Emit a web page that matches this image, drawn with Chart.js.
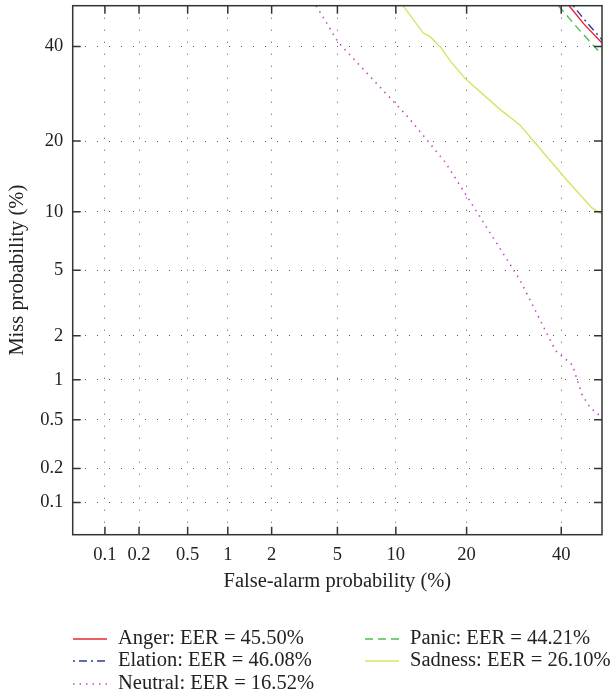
<!DOCTYPE html>
<html>
<head>
<meta charset="utf-8">
<script src="https://cdn.jsdelivr.net/npm/chart.js@4.4.1/dist/chart.umd.min.js"></script>
<style>
  body { margin: 0; background: #fff; }
  canvas { display: block; }
</style>
</head>
<body>
<canvas id="detChart" width="612" height="698"></canvas>
<script>
// DET plot, all values in percent
const tickValues = [0.1, 0.2, 0.5, 1, 2, 5, 10, 20, 40];
const tickLabels = ['0.1', '0.2', '0.5', '1', '2', '5', '10', '20', '40'];
const axisMin = 0.05;
const axisMax = 50;

const seriesNames = ['Anger: EER = 45.50%', 'Elation: EER = 46.08%', 'Neutral: EER = 16.52%',
  'Panic: EER = 44.21%', 'Sadness: EER = 26.10%'];

const angerFA = [41.9, 45.5, 50];
const angerMiss = [50, 45.5, 40.8];
const elationFA = [42.9, 46.1, 50];
const elationMiss = [50, 46.0, 41.6];
const neutralFA = [3.78, 5.05, 11.4, 16.5, 30.5, 38.6, 42.7, 45.1, 47.1, 50];
const neutralMiss = [50, 41, 24.4, 16.5, 4.4, 1.6, 1.27, 0.77, 0.62, 0.52];
const panicFA = [39.3, 44.2, 50];
const panicMiss = [50, 44.2, 38.0];
const sadnessFA = [10.8, 13.3, 14.3, 15.9, 17.3, 19.7, 26.1, 30.5, 36.2, 40.9, 44.6, 47.6, 50];
const sadnessMiss = [50, 43.3, 42.3, 39.6, 36.5, 32.6, 26.1, 22.9, 17.7, 14.2, 11.95, 10.4, 9.75];

// inverse normal cdf (Acklam), used for the normal-deviate axes
function probit(p) {
  const a = [-3.969683028665376e+01, 2.209460984245205e+02, -2.759285104469687e+02, 1.383577518672690e+02, -3.066479806614716e+01, 2.506628277459239e+00];
  const b = [-5.447609879822406e+01, 1.615858368580409e+02, -1.556989798598866e+02, 6.680131188771972e+01, -1.328068155288572e+01];
  const c = [-7.784894002430293e-03, -3.223964580411365e-01, -2.400758277161838e+00, -2.549732539343734e+00, 4.374664141464968e+00, 2.938163982698783e+00];
  const d = [7.784695709041462e-03, 3.224671290700398e-01, 2.445134137142996e+00, 3.754408661907416e+00];
  const pl = 0.02425;
  if (p < pl) {
    const q = Math.sqrt(-2 * Math.log(p));
    return (((((c[0]*q+c[1])*q+c[2])*q+c[3])*q+c[4])*q+c[5]) / ((((d[0]*q+d[1])*q+d[2])*q+d[3])*q+1);
  }
  if (p > 1 - pl) {
    const q = Math.sqrt(-2 * Math.log(1 - p));
    return -(((((c[0]*q+c[1])*q+c[2])*q+c[3])*q+c[4])*q+c[5]) / ((((d[0]*q+d[1])*q+d[2])*q+d[3])*q+1);
  }
  const q = p - 0.5, r = q * q;
  return (((((a[0]*r+a[1])*r+a[2])*r+a[3])*r+a[4])*r+a[5])*q / (((((b[0]*r+b[1])*r+b[2])*r+b[3])*r+b[4])*r+1);
}
const dev = v => v >= 50 ? 0 : probit(v / 100);

function points(fa, miss) {
  return fa.map((f, i) => ({ x: dev(f), y: dev(miss[i]) }));
}

const serif = '"Liberation Serif", "DejaVu Serif", serif';

const frame = {
  id: 'frame',
  afterDatasetsDraw(chart) {
    const { ctx, chartArea: a, scales: { x, y } } = chart;
    ctx.save();
    ctx.strokeStyle = '#333';
    ctx.lineWidth = 1.5;
    ctx.strokeRect(a.left, a.top, a.width, a.height);
    ctx.beginPath();
    tickValues.forEach(v => {
      const px = x.getPixelForValue(dev(v));
      ctx.moveTo(px, a.bottom); ctx.lineTo(px, a.bottom - 8);
      ctx.moveTo(px, a.top); ctx.lineTo(px, a.top + 8);
      const py = y.getPixelForValue(dev(v));
      ctx.moveTo(a.left, py); ctx.lineTo(a.left + 8, py);
      ctx.moveTo(a.right, py); ctx.lineTo(a.right - 8, py);
    });
    ctx.stroke();
    ctx.restore();
  }
};

// two-column legend under the plot
const legendBox = {
  id: 'legendBox',
  afterDraw(chart) {
    const ctx = chart.ctx;
    const cols = [73, 365];
    const rows = [639, 661, 684];
    const slots = [[0, 0], [0, 1], [0, 2], [1, 0], [1, 1]];
    ctx.save();
    ctx.font = '20.5px ' + serif;
    ctx.textBaseline = 'middle';
    ctx.fillStyle = '#222';
    chart.data.datasets.forEach((ds, i) => {
      const [c, r] = slots[i];
      const x0 = cols[c], y0 = rows[r];
      ctx.strokeStyle = ds.borderColor;
      ctx.lineWidth = ds.borderWidth;
      ctx.setLineDash(ds.borderDash || []);
      ctx.beginPath();
      ctx.moveTo(x0, y0); ctx.lineTo(x0 + 34, y0);
      ctx.stroke();
      ctx.setLineDash([]);
      ctx.fillText(ds.label, x0 + 45, y0);
    });
    ctx.restore();
  }
};

function axisOptions(title, isX) {
  return {
    type: 'linear',
    min: dev(axisMin),
    max: dev(axisMax),
    afterBuildTicks: scale => { scale.ticks = tickValues.map(v => ({ value: dev(v) })); },
    afterFit: scale => {
      if (isX) scale.height = 62; else scale.width = 72.7;
      scale.paddingTop = 0; scale.paddingBottom = 0;
      scale.paddingLeft = 0; scale.paddingRight = 0;
    },
    ticks: {
      autoSkip: false,
      maxRotation: 0,
      padding: isX ? 9 : 9.4,
      color: '#222',
      font: { family: serif, size: 18.5 },
      callback: (value, index) => tickLabels[index]
    },
    grid: { color: '#555', lineWidth: 1, drawTicks: false },
    border: { display: false, dash: [1, 11] },
    title: {
      display: true,
      text: title,
      color: '#222',
      font: { family: serif, size: 20.5 },
      padding: isX ? { top: 0, bottom: 2.4 } : { top: 5.7, bottom: 0 }
    }
  };
}

const chart = new Chart(document.getElementById('detChart').getContext('2d'), {
  type: 'scatter',
  data: {
    datasets: [
      { label: seriesNames[0], data: points(angerFA, angerMiss), borderColor: 'rgb(228,38,48)', borderWidth: 1.4 },
      { label: seriesNames[1], data: points(elationFA, elationMiss), borderColor: 'rgb(40,60,160)', borderWidth: 1.4, borderDash: [2, 4, 8, 4] },
      { label: seriesNames[2], data: points(neutralFA, neutralMiss), borderColor: 'rgb(200,70,200)', borderWidth: 1.6, borderDash: [1.5, 5] },
      { label: seriesNames[3], data: points(panicFA, panicMiss), borderColor: 'rgb(80,190,80)', borderWidth: 1.4, borderDash: [8, 5] },
      { label: seriesNames[4], data: points(sadnessFA, sadnessMiss), borderColor: 'rgb(218,225,100)', borderWidth: 1.4 }
    ]
  },
  options: {
    responsive: false,
    animation: false,
    showLine: true,
    elements: { point: { radius: 0 }, line: { tension: 0 } },
    layout: { padding: { left: 0, right: 10, top: 5.7, bottom: 101.3 } },
    plugins: { legend: { display: false }, tooltip: { enabled: false } },
    scales: {
      x: axisOptions('False-alarm probability (%)', true),
      y: axisOptions('Miss probability (%)', false)
    }
  },
  plugins: [frame, legendBox]
});
</script>
</body>
</html>
